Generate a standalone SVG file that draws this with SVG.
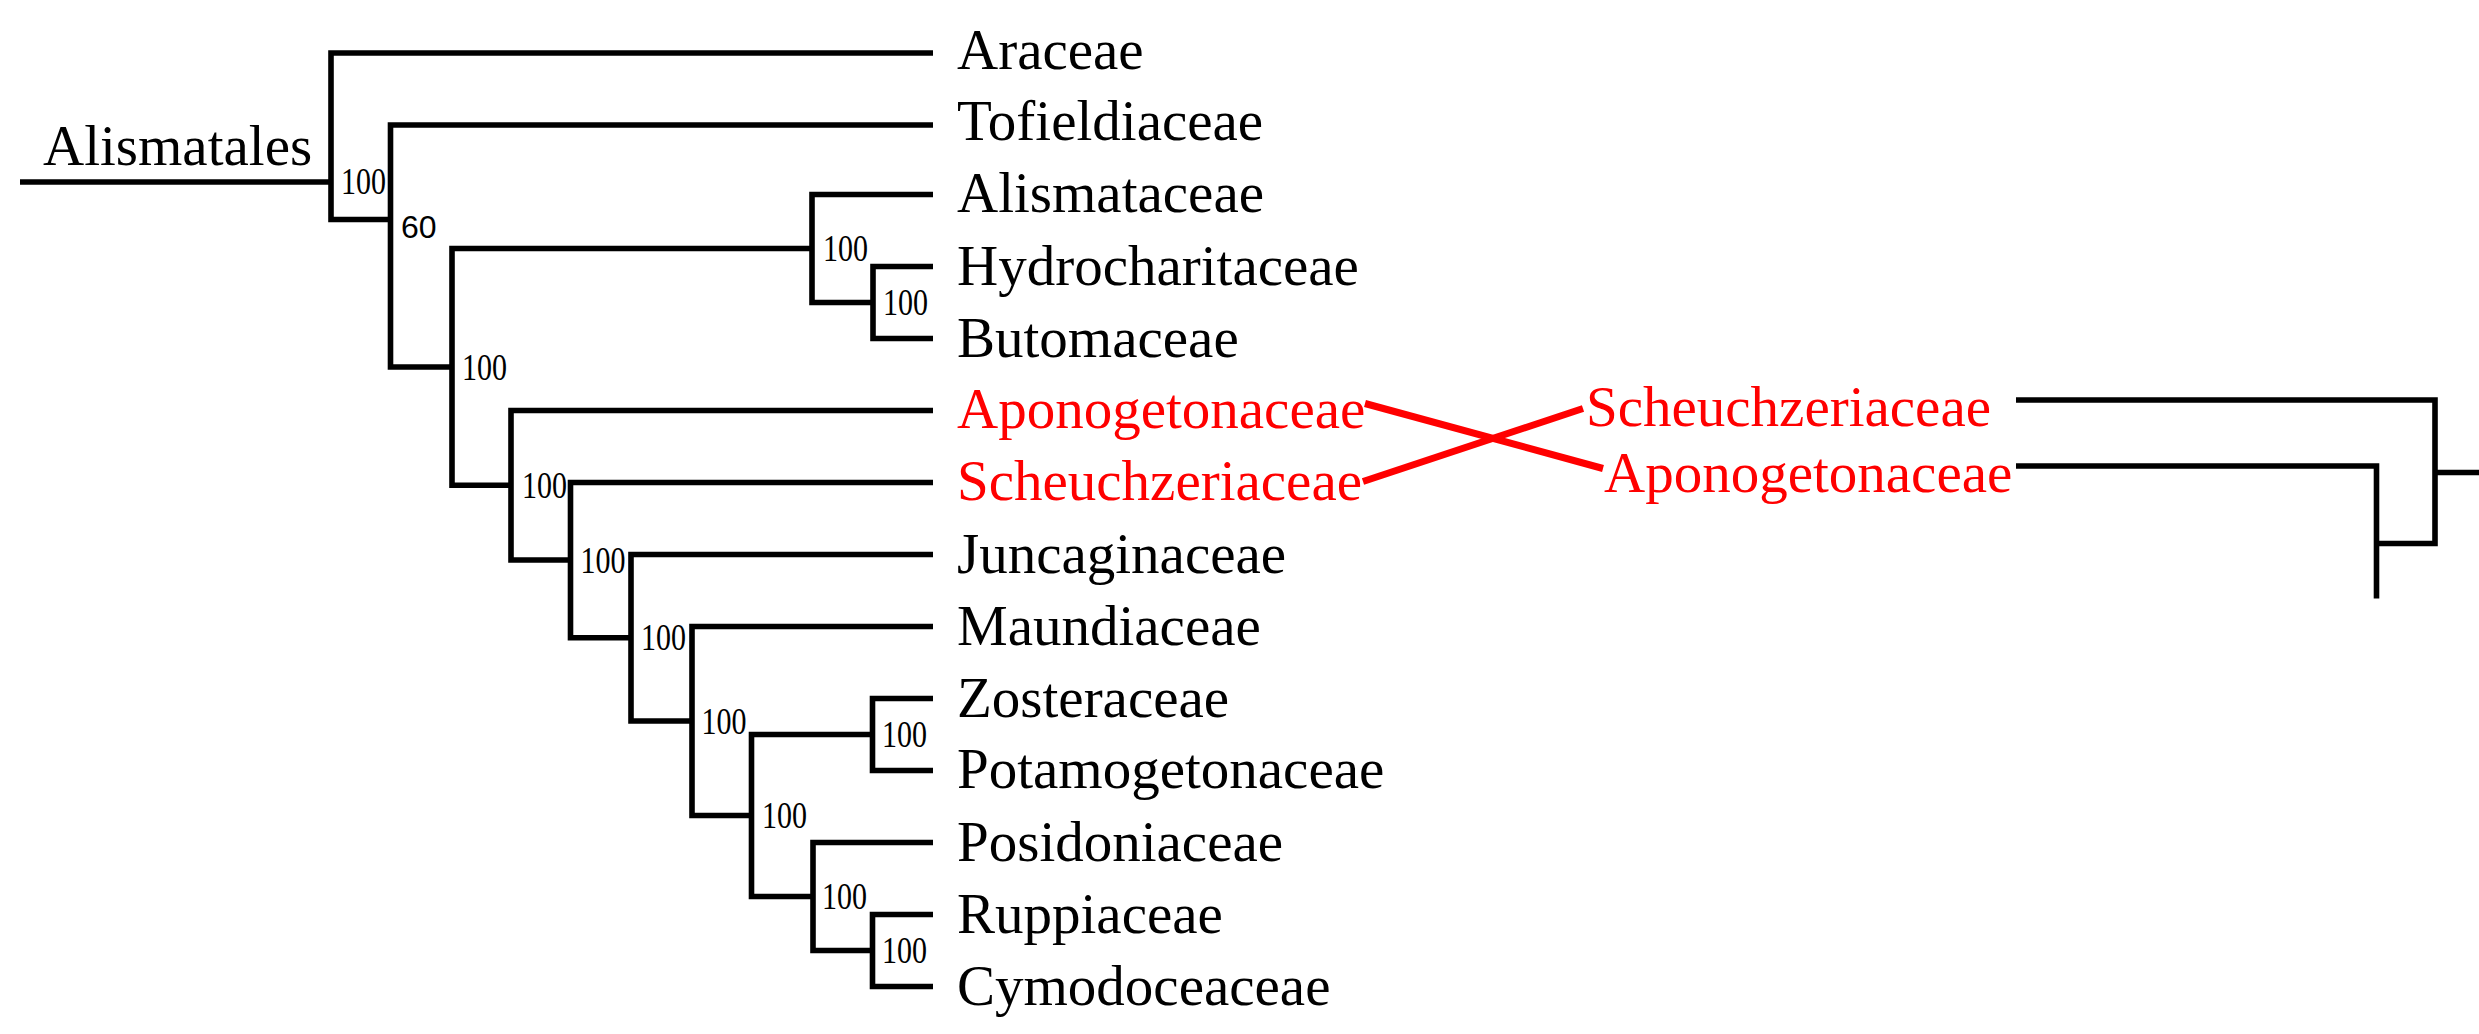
<svg xmlns="http://www.w3.org/2000/svg" width="2479" height="1034" viewBox="0 0 2479 1034">
<style>
.br{fill:none;stroke:#000;stroke-width:5.6;stroke-linejoin:miter;stroke-linecap:butt}
.x{fill:none;stroke:#ff0000;stroke-width:7;stroke-linecap:butt}
.leaf{font-family:"Liberation Serif","Times New Roman",serif;font-size:57px;fill:#000}
.red{fill:#ff0000}
.bs{font-family:"Liberation Serif","Times New Roman",serif;font-size:38.5px;fill:#000}
.bs2{font-family:"Liberation Sans",Arial,sans-serif;font-size:32px;fill:#000}
</style>
<rect width="2479" height="1034" fill="#fff"/>
<g id="connectors">
<path class="br" d="M20 182 H331"/>
<path class="br" d="M933 53 H331 V219.5 H390.5"/>
<path class="br" d="M933 125 H390.5 V367 H452"/>
<path class="br" d="M812 248.5 H452 V485.3 H511"/>
<path class="br" d="M933 194.5 H812 V302.5 H873"/>
<path class="br" d="M933 266.5 H873 V338.5 H933"/>
<path class="br" d="M933 410.5 H511 V560 H570.5"/>
<path class="br" d="M933 482.5 H570.5 V637.8 H631"/>
<path class="br" d="M933 554.5 H631 V721 H692"/>
<path class="br" d="M933 626.5 H692 V815.5 H751.5"/>
<path class="br" d="M872.5 734.5 H751.5 V896.5 H813"/>
<path class="br" d="M933 698.5 H872.5 V770.5 H933"/>
<path class="br" d="M933 842.5 H813 V950.5 H872.5"/>
<path class="br" d="M933 914.5 H872.5 V986.5 H933"/>
<path class="br" d="M2016 400 H2435 V543.5 H2376.5"/>
<path class="br" d="M2016 466 H2376.5 V598.5"/>
<path class="br" d="M2435 472.5 H2479"/>
<path class="x" d="M1365 403.5 L1603 468.5"/>
<path class="x" d="M1363 481.5 L1583 408.5"/>
</g>
<g id="root-label"><text class="leaf" x="43" y="165">Alismatales</text></g>
<g id="leaves">
<g id="leaf-araceae"><text class="leaf" x="957" y="69">Araceae</text></g>
<g id="leaf-tofieldiaceae"><text class="leaf" x="957" y="140">Tofieldiaceae</text></g>
<g id="leaf-alismataceae"><text class="leaf" x="957" y="212">Alismataceae</text></g>
<g id="leaf-hydrocharitaceae"><text class="leaf" x="957" y="285">Hydrocharitaceae</text></g>
<g id="leaf-butomaceae"><text class="leaf" x="957" y="357">Butomaceae</text></g>
<g id="leaf-aponogetonaceae"><text class="leaf red" x="957" y="428">Aponogetonaceae</text></g>
<g id="leaf-scheuchzeriaceae"><text class="leaf red" x="957" y="500">Scheuchzeriaceae</text></g>
<g id="leaf-juncaginaceae"><text class="leaf" x="957" y="573">Juncaginaceae</text></g>
<g id="leaf-maundiaceae"><text class="leaf" x="957" y="645">Maundiaceae</text></g>
<g id="leaf-zosteraceae"><text class="leaf" x="957" y="717">Zosteraceae</text></g>
<g id="leaf-potamogetonaceae"><text class="leaf" x="957" y="788">Potamogetonaceae</text></g>
<g id="leaf-posidoniaceae"><text class="leaf" x="957" y="861">Posidoniaceae</text></g>
<g id="leaf-ruppiaceae"><text class="leaf" x="957" y="933">Ruppiaceae</text></g>
<g id="leaf-cymodoceaceae"><text class="leaf" x="957" y="1005">Cymodoceaceae</text></g>
<g id="right-scheuchzeriaceae"><text class="leaf red" x="1586" y="426">Scheuchzeriaceae</text></g>
<g id="right-aponogetonaceae"><text class="leaf red" x="1604" y="492">Aponogetonaceae</text></g>
</g>
<g id="support">
<text class="bs" x="341" y="194.3" textLength="45" lengthAdjust="spacingAndGlyphs">100</text>
<text class="bs2" x="401" y="238.3">60</text>
<text class="bs" x="462" y="380" textLength="45" lengthAdjust="spacingAndGlyphs">100</text>
<text class="bs" x="823" y="261" textLength="45" lengthAdjust="spacingAndGlyphs">100</text>
<text class="bs" x="883" y="315" textLength="45" lengthAdjust="spacingAndGlyphs">100</text>
<text class="bs" x="522" y="497.5" textLength="45" lengthAdjust="spacingAndGlyphs">100</text>
<text class="bs" x="580.5" y="572.5" textLength="45" lengthAdjust="spacingAndGlyphs">100</text>
<text class="bs" x="641" y="650" textLength="45" lengthAdjust="spacingAndGlyphs">100</text>
<text class="bs" x="701.5" y="734" textLength="45" lengthAdjust="spacingAndGlyphs">100</text>
<text class="bs" x="762" y="828" textLength="45" lengthAdjust="spacingAndGlyphs">100</text>
<text class="bs" x="882" y="747" textLength="45" lengthAdjust="spacingAndGlyphs">100</text>
<text class="bs" x="822" y="909" textLength="45" lengthAdjust="spacingAndGlyphs">100</text>
<text class="bs" x="882" y="963" textLength="45" lengthAdjust="spacingAndGlyphs">100</text>
</g>
</svg>
